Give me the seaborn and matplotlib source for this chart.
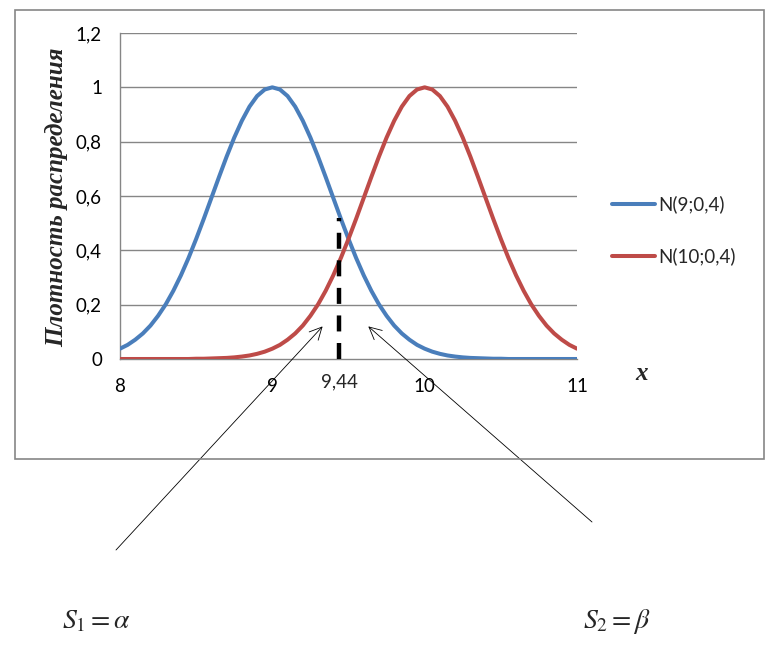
import matplotlib
matplotlib.use("Agg")
import matplotlib.pyplot as plt
import seaborn as sns
import pandas as pd
from matplotlib.patches import Rectangle

# values (x grid step 0.05)
x_vals = [8.00, 8.05, 8.10, 8.15, 8.20, 8.25, 8.30, 8.35, 8.40, 8.45,
          8.50, 8.55, 8.60, 8.65, 8.70, 8.75, 8.80, 8.85, 8.90, 8.95,
          9.00, 9.05, 9.10, 9.15, 9.20, 9.25, 9.30, 9.35, 9.40, 9.45,
          9.50, 9.55, 9.60, 9.65, 9.70, 9.75, 9.80, 9.85, 9.90, 9.95,
          10.00, 10.05, 10.10, 10.15, 10.20, 10.25, 10.30, 10.35, 10.40, 10.45,
          10.50, 10.55, 10.60, 10.65, 10.70, 10.75, 10.80, 10.85, 10.90, 10.95,
          11.00]

n9 = [0.038, 0.052, 0.071, 0.094, 0.123, 0.159, 0.201, 0.251, 0.308, 0.372,
      0.442, 0.516, 0.593, 0.670, 0.745, 0.815, 0.877, 0.929, 0.968, 0.992,
      1.000, 0.992, 0.968, 0.929, 0.877, 0.815, 0.745, 0.670, 0.593, 0.516,
      0.442, 0.372, 0.308, 0.251, 0.201, 0.159, 0.123, 0.094, 0.071, 0.052,
      0.038, 0.027, 0.019, 0.013, 0.009, 0.006, 0.004, 0.003, 0.002, 0.001,
      0.001, 0, 0, 0, 0, 0, 0, 0, 0, 0,
      0]

n10 = [0, 0, 0, 0, 0, 0, 0, 0, 0, 0,
       0.001, 0.001, 0.002, 0.003, 0.004, 0.006, 0.009, 0.013, 0.019, 0.027,
       0.038, 0.052, 0.071, 0.094, 0.123, 0.159, 0.201, 0.251, 0.308, 0.372,
       0.442, 0.516, 0.593, 0.670, 0.745, 0.815, 0.877, 0.929, 0.968, 0.992,
       1.000, 0.992, 0.968, 0.929, 0.877, 0.815, 0.745, 0.670, 0.593, 0.516,
       0.442, 0.372, 0.308, 0.251, 0.201, 0.159, 0.123, 0.094, 0.071, 0.052,
       0.038]

series_names = ['N(9;0,4)', 'N(10;0,4)']
colors = ['#4A7EBB', '#BE4B48']
y_ticks = [0, 0.2, 0.4, 0.6, 0.8, 1.0, 1.2]
y_tick_labels = ['0', '0,2', '0,4', '0,6', '0,8', '1', '1,2']
x_ticks = [8, 9, 10, 11]
x_tick_labels = ['8', '9', '10', '11']
threshold = 9.44
threshold_top = 0.52

df = pd.DataFrame({
    'x': x_vals * 2,
    'y': n9 + n10,
    'series': [series_names[0]] * len(x_vals) + [series_names[1]] * len(x_vals),
})

sns.set_style("white")
plt.rcParams['font.family'] = ['Lato', 'DejaVu Sans']
plt.rcParams['mathtext.fontset'] = 'stix'

W, H = 777, 645
fig = plt.figure(figsize=(W / 100, H / 100), dpi=100)
ax = fig.add_axes([120 / W, 1 - 359 / H, 457 / W, 326 / H])

grid_c = '#868686'
for yt in y_ticks[1:]:
    ax.axhline(yt, color=grid_c, lw=1, zorder=0)

sns.lineplot(data=df, x='x', y='y', hue='series', palette=colors,
             linewidth=2.9, ax=ax, legend=False, zorder=3)

# dashed threshold line
ax.plot([threshold, threshold], [0, threshold_top], color='black', lw=3.2,
        dashes=(3.6, 2.6), zorder=4)

ax.set_xlim(8, 11)
ax.set_ylim(0, 1.2)
ax.set_xticks(x_ticks)
ax.set_xticklabels(x_tick_labels)
ax.set_yticks(y_ticks)
ax.set_yticklabels(y_tick_labels)
ax.tick_params(axis='both', labelsize=13.5, colors=grid_c, labelcolor='black',
               length=5, width=1, direction='out')
ax.tick_params(axis='y', pad=8)
ax.tick_params(axis='x', pad=9)
for s in ['top', 'right']:
    ax.spines[s].set_visible(False)
for s in ['left', 'bottom']:
    ax.spines[s].set_color(grid_c)
    ax.spines[s].set_linewidth(1)
ax.set_xlabel('')
ax.set_ylabel('')

ax.annotate('9,44', xy=(threshold, 0), xycoords='data', xytext=(0, -10.5),
            textcoords='offset points', ha='center', va='top', fontsize=13.5,
            annotation_clip=False)

fig.text(57 / W, 1 - 197 / H, 'Плотность распределения', rotation=90,
         ha='center', va='center', fontsize=18, fontweight='bold',
         fontstyle='italic', family='Liberation Serif')
fig.text(642 / W, 1 - 373 / H, 'x', ha='center', va='center', fontsize=18,
         fontweight='bold', fontstyle='italic', family='Liberation Serif')

# legend
for i, (name, c) in enumerate(zip(series_names, colors)):
    yy = 1 - (204 + 52 * i) / H
    fig.add_artist(plt.Line2D([612 / W, 655 / W], [yy, yy], color=c, lw=2.9,
                              solid_capstyle='round'))
    fig.text(658 / W, yy, name, ha='left', va='center', fontsize=13.5)

# chart area border
fig.add_artist(Rectangle((15 / W, 1 - 459 / H), 749 / W, 449 / H,
                         transform=fig.transFigure, fill=False,
                         edgecolor=grid_c, lw=1.2))

# arrows
ax.annotate('', xy=(9.33, 0.12), xycoords='data',
            xytext=(116 / W, 1 - 550 / H), textcoords='figure fraction',
            arrowprops=dict(arrowstyle='->', lw=0.6, color='black',
                            mutation_scale=22, shrinkA=0, shrinkB=0),
            annotation_clip=False)
ax.annotate('', xy=(9.63, 0.12), xycoords='data',
            xytext=(592 / W, 1 - 522 / H), textcoords='figure fraction',
            arrowprops=dict(arrowstyle='->', lw=0.6, color='black',
                            mutation_scale=22, shrinkA=0, shrinkB=0),
            annotation_clip=False)

fig.text(97 / W, 1 - 621 / H, r'$S_1 = \alpha$', ha='center', va='center',
         fontsize=20)
fig.text(617 / W, 1 - 621 / H, r'$S_2 = \beta$', ha='center', va='center',
         fontsize=20)

fig.savefig('out.png', dpi=100, facecolor='white')
